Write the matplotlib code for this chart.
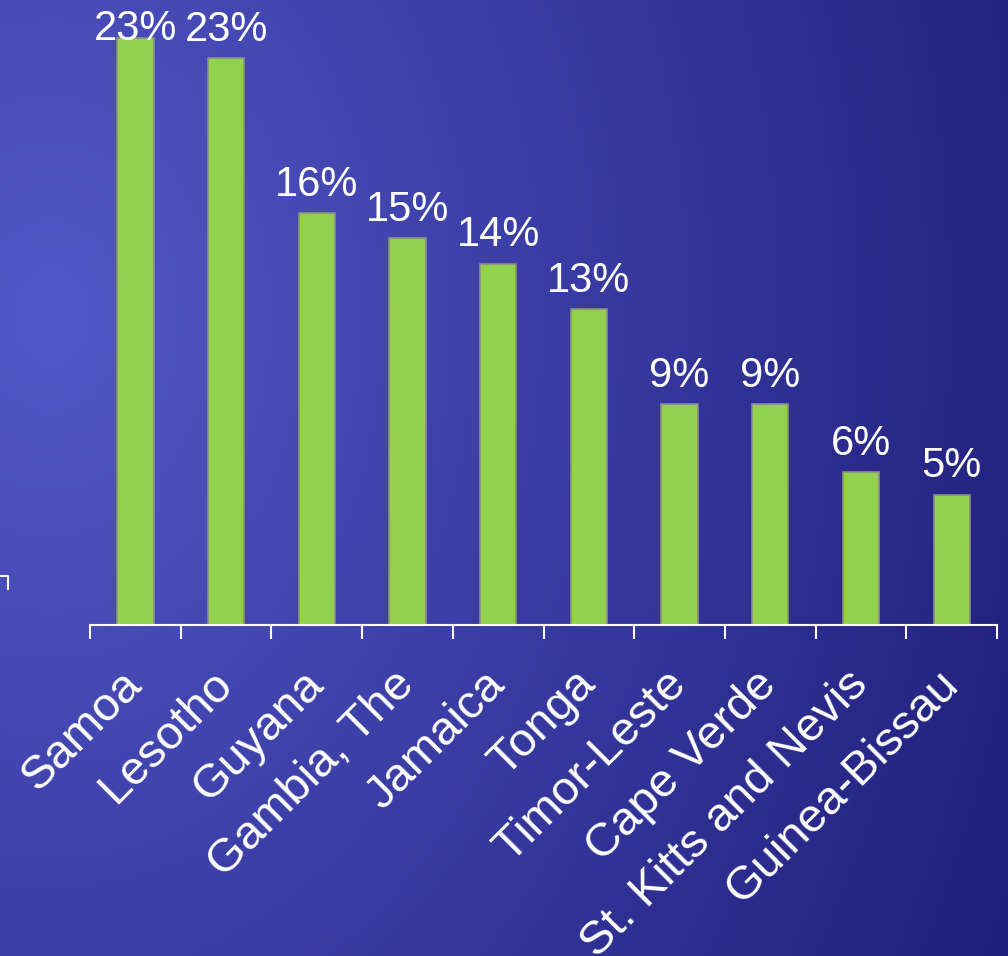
import numpy as np
import matplotlib
matplotlib.use('Agg')
import matplotlib.pyplot as plt
from matplotlib.lines import Line2D

plt.rcParams['font.family'] = ['Liberation Sans', 'DejaVu Sans']

countries = ['Samoa', 'Lesotho', 'Guyana', 'Gambia, The', 'Jamaica', 'Tonga',
             'Timor-Leste', 'Cape Verde', 'St. Kitts and Nevis', 'Guinea-Bissau']
shares = [23.4, 22.6, 16.4, 15.4, 14.4, 12.6, 8.8, 8.8, 6.1, 5.2]

BAR_GREEN = '#92D050'
BAR_EDGE = '#8C8C8C'
LIGHT = np.array([82, 88, 200]) / 255.0
DARK = np.array([24, 22, 112]) / 255.0

fig = plt.figure(figsize=(10.08, 9.56), dpi=100)

# background: soft radial gradient, brightest on the left edge
bg = fig.add_axes([0, 0, 1, 1])
gx, gy = np.meshgrid(np.linspace(0, 1, 400), np.linspace(0, 1, 380))
dist = np.sqrt((gx - 0.05) ** 2 + ((gy - 0.33) * 0.7) ** 2)
t = np.clip(dist / 1.2, 0, 1)[..., None]
bg.imshow(LIGHT * (1 - t) + DARK * t, aspect='auto', extent=[0, 1, 1, 0])
bg.set_axis_off()

ax = fig.add_axes([0.0893, 0.3462, 0.8998, 0.6538])
ax.patch.set_alpha(0)
x = np.arange(len(countries))
bars = ax.bar(x, shares, width=0.4, color=BAR_GREEN, edgecolor=BAR_EDGE, linewidth=1.2, zorder=2)

ax.set_xlim(-0.5, len(countries) - 0.5)
ax.set_ylim(0, 24.9)

# value labels, kept inside the top of the plot
for xi, v in zip(x, shares):
    ly = min(v + 0.68, 23.3)
    ax.text(xi, ly, f'{v:.0f}%', ha='center', va='baseline', color='white',
            fontsize=30, zorder=3)

for s in ['top', 'right', 'left']:
    ax.spines[s].set_visible(False)
ax.spines['bottom'].set_color('white')
ax.spines['bottom'].set_linewidth(1.5)
ax.set_yticks([])

ax.set_xticks(x)
ax.set_xticklabels(countries, rotation=45, ha='right', va='center',
                   rotation_mode='anchor', color='white', fontsize=34)
ax.tick_params(axis='x', which='major', length=0, pad=38)
ax.set_xticks(np.arange(-0.5, len(countries)), minor=True)
ax.tick_params(axis='x', which='minor', length=10, width=1.5, color='white', direction='out')

# stub of the neighbouring axis at the left edge
fig.add_artist(Line2D([0, 8 / 1008, 8 / 1008], [1 - 576 / 956, 1 - 576 / 956, 1 - 589 / 956],
                      color='white', linewidth=1.5, transform=fig.transFigure))

fig.savefig('out.png', dpi=100)
